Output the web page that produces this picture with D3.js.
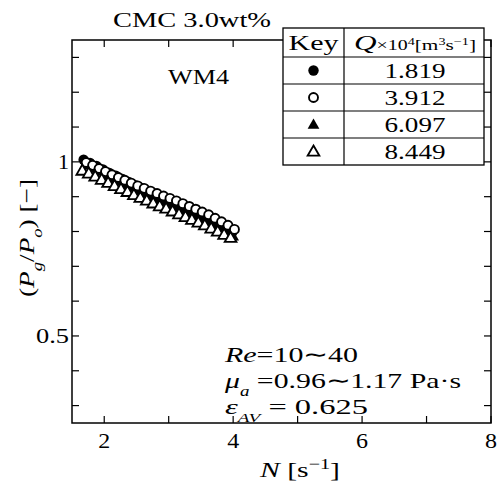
<!DOCTYPE html>
<html><head><meta charset="utf-8">
<script src="https://cdn.jsdelivr.net/npm/d3@7"></script>
<style>
html,body{margin:0;padding:0;background:#fff;}
text{font-family:"Liberation Serif","Times New Roman",serif;fill:#000;}
</style></head>
<body><svg id="c" width="501" height="484" font-family="Liberation Serif"></svg>
<script>
// ---- data ----
const xTickValues = [2,3,4,5,6,7,8];
const xTickLabels = ["2","","4","","6","","8"];
const yTickValues = [0.3,0.4,0.5,0.6,0.7,0.8,0.9,1.0,1.1,1.2,1.3];
const yTickLabels = ["","","0.5","","","","","1","","",""];
const seriesKeys = ["1.819","3.912","6.097","8.449"];
const seriesSymbols = ["circleFilled","circleOpen","triFilled","triOpen"];
const n1 = [1.68,1.78,1.88,1.98,2.08,2.18,2.28,2.38,2.48,2.58,2.68,2.78,2.88,2.98,3.08,3.18,3.28,3.38,3.48,3.58,3.68,3.78,3.88,3.98];
const v1 = [1.006,0.997,0.988,0.978,0.968,0.960,0.951,0.942,0.933,0.925,0.917,0.909,0.900,0.892,0.884,0.876,0.868,0.860,0.851,0.843,0.832,0.821,0.810,0.796];
const n2 = [1.72,1.82,1.92,2.02,2.12,2.22,2.32,2.42,2.52,2.62,2.72,2.82,2.92,3.02,3.12,3.22,3.32,3.42,3.52,3.62,3.72,3.82,3.92,4.02];
const v2 = [0.998,0.990,0.981,0.972,0.963,0.955,0.947,0.939,0.931,0.924,0.916,0.909,0.902,0.895,0.888,0.880,0.872,0.864,0.856,0.848,0.838,0.828,0.818,0.806];
const n3 = [1.70,1.80,1.90,2.00,2.10,2.20,2.30,2.40,2.50,2.60,2.70,2.80,2.90,3.00,3.10,3.20,3.30,3.40,3.50,3.60,3.70,3.80,3.90,4.00];
const v3 = [0.990,0.981,0.972,0.962,0.953,0.944,0.935,0.927,0.918,0.910,0.902,0.894,0.886,0.878,0.870,0.862,0.854,0.846,0.838,0.830,0.820,0.809,0.798,0.786];
const n4 = [1.66,1.76,1.86,1.96,2.06,2.16,2.26,2.36,2.46,2.56,2.66,2.76,2.86,2.96,3.06,3.16,3.26,3.36,3.46,3.56,3.66,3.76,3.86,3.96];
const v4 = [0.975,0.967,0.958,0.949,0.940,0.931,0.922,0.914,0.905,0.897,0.889,0.881,0.873,0.866,0.858,0.850,0.842,0.834,0.826,0.818,0.809,0.800,0.791,0.782];
const seriesN = [n1,n2,n3,n4];
const seriesV = [v1,v2,v3,v4];

// ---- layout ----
const L=72, R=491, T=40, B=423;
const svg = d3.select("#c");
const x = d3.scaleLinear().domain([1.5,8]).range([L,R]);
const y = d3.scaleLinear().domain([0.25,1.35]).range([B,T]);
const FS = 22;

function drawSym(g, kind, cx, cy){
  if(kind==="circleFilled") g.append("circle").attr("cx",cx).attr("cy",cy).attr("r",5.2).attr("fill","#000");
  else if(kind==="circleOpen") g.append("circle").attr("cx",cx).attr("cy",cy).attr("r",4.5).attr("fill","#fff").attr("stroke","#000").attr("stroke-width",1.9);
  else {
    const p = d3.symbol().type(d3.symbolTriangle).size(60)();
    const s = g.append("path").attr("d",p).attr("transform",`translate(${cx},${cy+0.8})`);
    if(kind==="triFilled") s.attr("fill","#000");
    else s.attr("fill","#fff").attr("stroke","#000").attr("stroke-width",1.8);
  }
}
function txt(g, xx, yy, anchor, len){
  const t = g.append("text").attr("x",xx).attr("y",yy).attr("font-size",FS).attr("text-anchor",anchor);
  if(len) t.attr("textLength",len).attr("lengthAdjust","spacingAndGlyphs");
  return t;
}

// data points
const dataG = svg.append("g");
[0,2,1,3].forEach(i=>{
  seriesN[i].forEach((n,j)=>drawSym(dataG, seriesSymbols[i], x(n), y(seriesV[i][j])));
});

// frame + ticks
const ax = svg.append("g").attr("stroke","#000").attr("fill","none");
ax.append("rect").attr("x",L).attr("y",T).attr("width",R-L).attr("height",B-T).attr("stroke-width",1.5);
xTickValues.forEach(v=>{
  ax.append("line").attr("x1",x(v)).attr("x2",x(v)).attr("y1",B).attr("y2",B-7).attr("stroke-width",1.2);
  ax.append("line").attr("x1",x(v)).attr("x2",x(v)).attr("y1",T).attr("y2",T+7).attr("stroke-width",1.2);
});
yTickValues.forEach(v=>{
  ax.append("line").attr("x1",L).attr("x2",L+7).attr("y1",y(v)).attr("y2",y(v)).attr("stroke-width",1.2);
  ax.append("line").attr("x1",R).attr("x2",R-7).attr("y1",y(v)).attr("y2",y(v)).attr("stroke-width",1.2);
});
// tick labels
xTickValues.forEach((v,i)=>{ if(xTickLabels[i]) txt(svg, x(v), 448, "middle", 12).text(xTickLabels[i]); });
yTickValues.forEach((v,i)=>{ if(yTickLabels[i]) txt(svg, L-3, y(v)+7, "end", yTickLabels[i].length>1?33:11).text(yTickLabels[i]); });

// axis titles
const xt = txt(svg, 300, 477, "middle", 80);
xt.append("tspan").attr("font-style","italic").text("N");
xt.append("tspan").text("  [s");
xt.append("tspan").attr("baseline-shift","super").attr("font-size",15).text("−1");
xt.append("tspan").text("]");

const yt = svg.append("text").attr("transform","translate(34,238) rotate(-90)").attr("text-anchor","middle").attr("font-size",FS)
  .attr("textLength",118).attr("lengthAdjust","spacingAndGlyphs");
yt.append("tspan").text("(");
yt.append("tspan").attr("font-style","italic").text("P");
yt.append("tspan").attr("font-style","italic").attr("font-size",15).attr("baseline-shift","sub").text("g");
yt.append("tspan").text("/");
yt.append("tspan").attr("font-style","italic").text("P");
yt.append("tspan").attr("font-style","italic").attr("font-size",15).attr("baseline-shift","sub").text("o");
yt.append("tspan").text(") [−]");

// title & label
txt(svg, 113, 27, "start", 158).text("CMC 3.0wt%");
txt(svg, 168, 84, "start", 61).text("WM4");

// annotations
const a1 = txt(svg, 225, 362, "start", 133);
a1.append("tspan").attr("font-style","italic").text("Re");
a1.append("tspan").text("=10∼40");
const a2 = txt(svg, 225, 388, "start", 236);
a2.append("tspan").attr("font-style","italic").text("μ");
a2.append("tspan").attr("font-style","italic").attr("font-size",14).attr("baseline-shift","sub").text("a");
a2.append("tspan").text(" =0.96∼1.17 Pa·s");
const a3 = txt(svg, 225, 414, "start", 143);
a3.append("tspan").attr("font-style","italic").text("ε");
a3.append("tspan").attr("font-style","italic").attr("font-size",13).attr("baseline-shift","sub").text("AV");
a3.append("tspan").text(" = 0.625");

// legend table
const lg = svg.append("g");
const LX0=283, LX1=344, LX2=484;
const rowY=[28,57,84,111,138,165];
lg.append("rect").attr("x",LX0).attr("y",rowY[0]).attr("width",LX2-LX0).attr("height",rowY[5]-rowY[0]).attr("fill","#fff").attr("stroke","#000").attr("stroke-width",1.3);
lg.append("line").attr("x1",LX1).attr("x2",LX1).attr("y1",rowY[0]).attr("y2",rowY[5]).attr("stroke","#000").attr("stroke-width",1.2);
rowY.slice(1,5).forEach(yy=>lg.append("line").attr("x1",LX0).attr("x2",LX2).attr("y1",yy).attr("y2",yy).attr("stroke","#000").attr("stroke-width",1.2));
txt(lg, (LX0+LX1)/2, 50, "middle", 50).text("Key");
const hq = txt(lg, (LX1+LX2)/2+1, 50, "middle", 122);
hq.append("tspan").attr("font-style","italic").text("Q");
hq.append("tspan").attr("font-size",14).text("×10");
hq.append("tspan").attr("font-size",10).attr("baseline-shift","super").text("4");
hq.append("tspan").attr("font-size",15).text("[m");
hq.append("tspan").attr("font-size",10).attr("baseline-shift","super").text("3");
hq.append("tspan").attr("font-size",15).text("s");
hq.append("tspan").attr("font-size",10).attr("baseline-shift","super").text("−1");
hq.append("tspan").attr("font-size",15).text("]");
seriesKeys.forEach((k,i)=>{
  const cy=(rowY[i+1]+rowY[i+2])/2;
  drawSym(lg, seriesSymbols[i], (LX0+LX1)/2, cy);
  txt(lg, (LX1+LX2)/2+1, cy+7.5, "middle", 61).text(k);
});
</script></body></html>
